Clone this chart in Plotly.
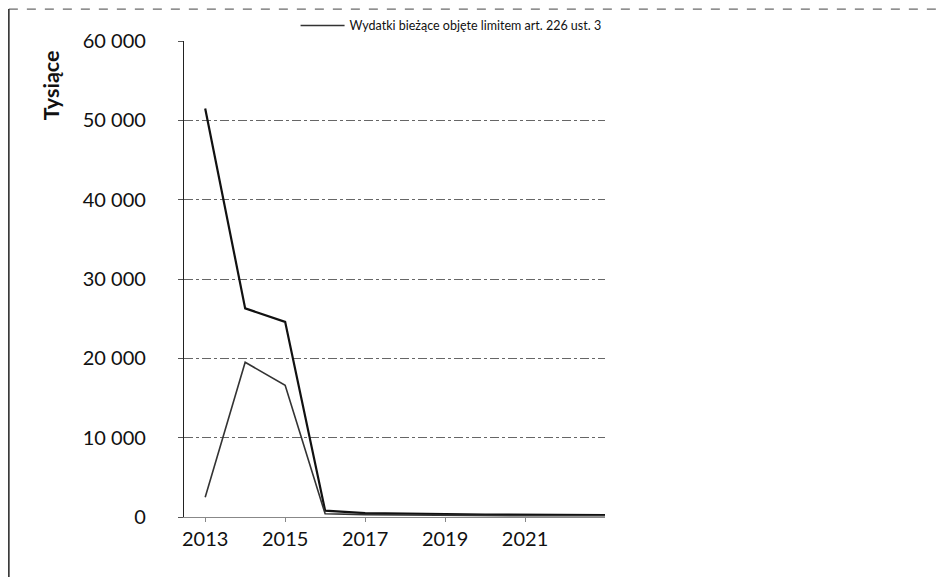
import plotly.graph_objects as go

years = [2013, 2014, 2015, 2016, 2017, 2018, 2019, 2020, 2021, 2022, 2023]
series_upper = [51500, 26300, 24600, 800, 500, 400, 350, 300, 300, 250, 250]
series_lower = [2500, 19500, 16600, 400, 300, 250, 200, 200, 150, 150, 150]
y_ticks = [0, 10000, 20000, 30000, 40000, 50000, 60000]
y_tick_labels = ["0", "10 000", "20 000", "30 000", "40 000", "50 000", "60 000"]
x_ticks = [2013, 2015, 2017, 2019, 2021]
legend_name = "Wydatki bieżące objęte limitem art. 226 ust. 3"
y_title = "Tysiące"

FONT = "Lato, 'Open Sans', sans-serif"

fig = go.Figure()
fig.add_trace(go.Scatter(
    x=years, y=series_upper, mode="lines", name="Seria 1",
    line=dict(color="#111111", width=2.2), showlegend=False,
))
fig.add_trace(go.Scatter(
    x=years, y=series_lower, mode="lines", name=legend_name,
    line=dict(color="#333333", width=1.6),
))

fig.update_layout(
    width=946, height=577,
    margin=dict(l=176, r=349, t=33, b=68, autoexpand=False),
    paper_bgcolor="white", plot_bgcolor="white",
    font=dict(family=FONT, color="#111111"),
    legend=dict(
        xref="paper", yref="container",
        x=0.265, y=0.995, xanchor="left", yanchor="top",
        bgcolor="rgba(0,0,0,0)", font=dict(size=12.5, family=FONT, color="#111111"),
        itemwidth=44,
    ),
    xaxis=dict(
        range=[2012.47, 2023.0], tickvals=x_ticks, ticktext=[str(v) for v in x_ticks],
        showgrid=False, zeroline=False, showline=True, linecolor="#888888",
        linewidth=1, ticks="outside", ticklen=4, tickcolor="#888888",
        tickfont=dict(size=20, family=FONT, color="#111111"),
        automargin=False,
    ),
    yaxis=dict(
        range=[0, 60000], tickvals=y_ticks, ticktext=y_tick_labels,
        showgrid=True, gridcolor="#666666", griddash="dashdot", gridwidth=1,
        zeroline=False, showline=True, linecolor="#222222", linewidth=1.2,
        ticks="outside", ticklen=5, tickcolor="#555555",
        ticklabelstandoff=28,
        tickfont=dict(size=20, family=FONT, color="#111111"),
        automargin=False,
    ),
)

fig.add_annotation(
    text="<b>" + y_title + "</b>", xref="paper", yref="paper",
    x=-0.316, y=0.907, xanchor="center", yanchor="middle",
    textangle=-90, showarrow=False,
    font=dict(size=21.5, family=FONT, color="#111111"),
)

# outer chart frame (left edge and dashed top edge)
fig.add_shape(type="line", xref="paper", yref="paper",
              x0=-0.416, x1=-0.416, y0=-0.15, y1=1.067,
              line=dict(color="#222222", width=1.5))
fig.add_shape(type="line", xref="paper", yref="paper",
              x0=-0.416, x1=1.83, y0=1.067, y1=1.067,
              line=dict(color="#444444", width=1, dash="dash"))

fig.write_html("out.html")
